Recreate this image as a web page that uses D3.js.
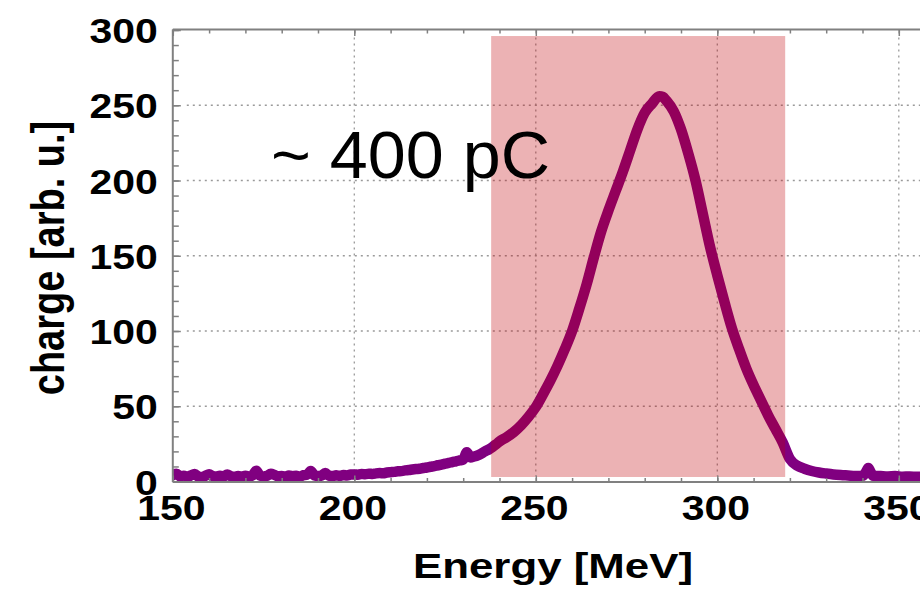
<!DOCTYPE html>
<html>
<head>
<meta charset="utf-8">
<script src="https://cdn.jsdelivr.net/npm/d3@7/dist/d3.min.js"></script>
<style>
  body { margin: 0; background: #fff; }
  svg { display: block; font-family: "Liberation Sans", Arial, sans-serif; }
</style>
</head>
<body>
<div id="chart"></div>
<script>
// Spectrum (MeV, arb. u.)
const energy = [
  150,151,152,153,154,155,156,157,158,159,160,161,162,163,164,165,166,167,168,169,
  170,171,172,173,174,175,176,177,178,179,180,181,182,183,184,185,186,187,188,189,
  190,191,192,193,194,195,196,197,198,199,200,201,202,203,204,205,206,207,208,209,
  210,211,212,213,214,215,216,217,218,219,220,221,222,223,224,225,226,227,228,229,
  230,231,232,233,234,235,236,237,238,239,240,
  242,244,246,248,250,252,254,256,258,260,262,264,266,268,270,272,274,276,278,280,
  282,284,285,286,288,290,292,294,296,298,300,302,304,306,308,310,312,314,316,318,
  320,322,324,326,328,330,332,334,336,338,340,341,341.6,342.2,343,345,347,349,351,353,355,357
];
const charge = [
  4.2,5.2,3.4,3.9,3.1,4.0,5.0,3.3,3.0,3.8,4.8,3.6,3.2,3.9,3.4,4.6,3.5,3.1,3.7,3.3,
  3.9,3.2,4.1,7.2,4.0,3.4,3.8,5.2,4.4,3.4,3.7,3.2,4.0,3.5,3.8,3.3,4.2,4.5,7.0,4.1,
  3.6,4.0,5.6,3.9,3.6,4.1,3.8,4.3,4.0,4.6,4.7,4.5,5.0,4.8,5.2,5.0,5.4,5.6,5.5,6.0,
  6.2,6.4,6.8,6.9,7.4,7.6,8.0,8.3,8.5,9.0,9.3,9.8,10.2,10.8,11.2,11.8,12.3,12.9,13.4,14.0,
  14.6,19.5,16.0,16.6,17.4,18.6,20.0,21.2,22.8,24.6,26.6,
  29.5,33,37.5,43,49.5,58,67,77,88,100,115,131,149,166,180,193,206,220,234,245,
  251,256,255.5,253,246,234,218,200,178,156,137,119,102,88,75,64,54,44,35,26,
  15,10.5,8.5,7,6,5.3,4.7,4.3,4.0,3.7,3.8,6.5,9.0,6.5,3.8,3.6,3.4,3.6,3.2,3.4,3.1,3.3
];

// Shaded energy window and its charge extent
const bandEnergy = [237.7, 318.7];
const bandCharge = [3, 296];

// Axes
const xMajor = [150, 200, 250, 300, 350];
const yMajor = [0, 50, 100, 150, 200, 250, 300];
const xTitle = "Energy [MeV]";
const yTitle = "charge [arb. u.]";
const note = "~ 400 pC";

const width = 920, height = 593;
const plotLeft = 172.8, plotTop = 29.5, plotBottom = 482, plotRight = 920;

const x = d3.scaleLinear().domain([150, 350]).range([172.8, 898.8]);
const y = d3.scaleLinear().domain([0, 300]).range([481.5, 30]);

const svg = d3.select("#chart").append("svg")
  .attr("width", width)
  .attr("height", height);

svg.append("defs").append("clipPath").attr("id", "plot")
  .append("rect")
  .attr("x", plotLeft).attr("y", plotTop)
  .attr("width", plotRight - plotLeft).attr("height", plotBottom - plotTop);

// Grid
const grid = svg.append("g")
  .attr("stroke", "#9a9a9a")
  .attr("stroke-width", 1.3)
  .attr("stroke-dasharray", "2,4");

grid.selectAll(".gy")
  .data(yMajor.filter(v => v > 0 && v < 300))
  .enter().append("line")
  .attr("x1", plotLeft + 14).attr("x2", plotRight)
  .attr("y1", d => y(d)).attr("y2", d => y(d));

grid.selectAll(".gx")
  .data(xMajor.filter(v => v > 150))
  .enter().append("line")
  .attr("x1", d => x(d)).attr("x2", d => x(d))
  .attr("y1", plotTop + 8).attr("y2", plotBottom - 6);

// Spectrum line
const line = d3.line()
  .x((d, i) => x(energy[i]))
  .y(d => y(d))
  .curve(d3.curveMonotoneX);

svg.append("path")
  .datum(charge)
  .attr("clip-path", "url(#plot)")
  .attr("d", line)
  .attr("fill", "none")
  .attr("stroke", "#800080")
  .attr("stroke-width", 10.5)
  .attr("stroke-linejoin", "round")
  .attr("stroke-linecap", "round");

// Shaded window
svg.append("rect")
  .attr("x", x(bandEnergy[0]))
  .attr("y", y(bandCharge[1]))
  .attr("width", x(bandEnergy[1]) - x(bandEnergy[0]))
  .attr("height", y(bandCharge[0]) - y(bandCharge[1]))
  .attr("fill", "rgb(192,0,8)")
  .attr("fill-opacity", 0.3);

// Annotation
svg.append("text")
  .attr("x", 271)
  .attr("y", 178)
  .attr("font-size", 66)
  .attr("textLength", 279)
  .attr("lengthAdjust", "spacingAndGlyphs")
  .attr("fill", "#000")
  .text(note);

// Axes
const axisColor = "#808080";
const xMinor = x.ticks(20);
const yMinor = y.ticks(30);
const labelScale = "scale(1.17,1)";

function styleAxis(g) {
  g.select(".domain").remove();
  g.selectAll("line").attr("stroke", axisColor).attr("stroke-width", 1.5);
}

// bottom
svg.append("g")
  .attr("transform", `translate(0,${plotBottom})`)
  .call(d3.axisBottom(x).tickValues(xMinor).tickSize(-4).tickFormat(""))
  .call(styleAxis);

const xAxis = svg.append("g")
  .attr("transform", `translate(0,${plotBottom})`)
  .call(d3.axisBottom(x).tickValues(xMajor).tickSize(-6.5))
  .call(styleAxis);

xAxis.selectAll("text")
  .attr("y", 38)
  .attr("dy", 0)
  .attr("x", -1.7)
  .attr("transform", labelScale)
  .attr("fill", "#000")
  .attr("font-size", 35)
  .attr("font-weight", "bold")
  .attr("font-family", "Liberation Sans, Arial, sans-serif");

// top
svg.append("g")
  .attr("transform", `translate(0,${plotTop})`)
  .call(d3.axisTop(x).tickValues(xMinor).tickSize(-4).tickFormat(""))
  .call(styleAxis);
svg.append("g")
  .attr("transform", `translate(0,${plotTop})`)
  .call(d3.axisTop(x).tickValues(xMajor).tickSize(-6.5).tickFormat(""))
  .call(styleAxis);

// left
svg.append("g")
  .attr("transform", `translate(${plotLeft},0)`)
  .call(d3.axisLeft(y).tickValues(yMinor).tickSize(-6).tickFormat(""))
  .call(styleAxis);

const yAxis = svg.append("g")
  .attr("transform", `translate(${plotLeft},0)`)
  .call(d3.axisLeft(y).tickValues(yMajor).tickSize(-8))
  .call(styleAxis);

yAxis.selectAll("text")
  .attr("x", -15 / 1.17)
  .attr("dy", "0.36em")
  .attr("transform", labelScale)
  .attr("fill", "#000")
  .attr("font-size", 35)
  .attr("font-weight", "bold")
  .attr("font-family", "Liberation Sans, Arial, sans-serif");

// frame lines
const frame = svg.append("g")
  .attr("stroke", axisColor)
  .attr("stroke-width", 2)
  .attr("fill", "none");
frame.append("line").attr("x1", plotLeft).attr("x2", plotLeft).attr("y1", plotTop).attr("y2", plotBottom);
frame.append("line").attr("x1", plotLeft).attr("x2", plotRight).attr("y1", plotTop).attr("y2", plotTop);
frame.append("line").attr("x1", plotLeft).attr("x2", plotRight).attr("y1", plotBottom).attr("y2", plotBottom);

// Titles
svg.append("text")
  .attr("x", 553)
  .attr("y", 578)
  .attr("text-anchor", "middle")
  .attr("font-size", 35)
  .attr("font-weight", "bold")
  .attr("textLength", 280)
  .attr("lengthAdjust", "spacingAndGlyphs")
  .attr("fill", "#000")
  .text(xTitle);

svg.append("text")
  .attr("transform", "translate(63.5,258) scale(1.2,1) rotate(-90)")
  .attr("text-anchor", "middle")
  .attr("font-size", 38)
  .attr("font-weight", "bold")
  .attr("fill", "#000")
  .text(yTitle);
</script>
</body>
</html>
